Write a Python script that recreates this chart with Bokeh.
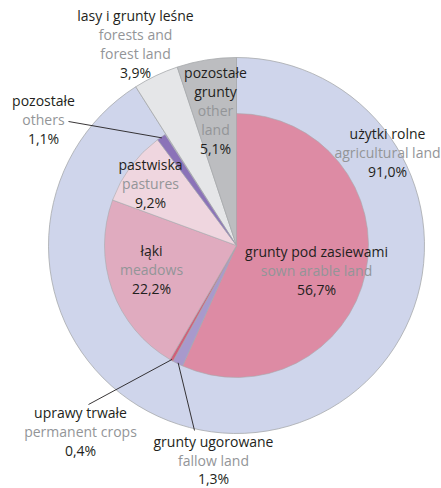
import math
from bokeh.plotting import figure
from bokeh.models import Range1d, ColumnDataSource
from bokeh.core.properties import value
from bokeh.embed import file_html
from bokeh.resources import INLINE

# ---- data (percent of total area), clockwise from 12 o'clock ----
inner_names = ["grunty pod zasiewami", "grunty ugorowane", "uprawy trwałe", "łąki", "pastwiska", "pozostałe"]
inner_values = [56.7, 1.3, 0.4, 22.2, 9.2, 1.1]
inner_colors = ["#dd8ba4", "#a899cc", "#d0607a", "#e0abbf", "#efd6df", "#8b73b8"]

outer_names = ["użytki rolne", "lasy i grunty leśne", "pozostałe grunty"]
outer_values = [91.0, 3.9, 5.1]
outer_colors = ["#cfd5eb", "#e5e6e8", "#bcbdc0"]

# ---- layout (picture pixel coords; y downwards) ----
CX, CY = 236, 245
R_OUT, R_IN = 188, 132
FONT = "Open Sans"
FS = "14px"
DARK = "#231f20"
GREY = "#939598"

W, H = 441, 488
p = figure(width=W, height=H, output_backend="svg", toolbar_location=None,
           x_range=Range1d(0, W), y_range=Range1d(-H, 0),
           min_border=0)
p.axis.visible = False
p.grid.visible = False
p.outline_line_color = None
p.background_fill_color = "white"
p.border_fill_color = "white"


def angles(vals, total=100.0):
    starts, ends, mids = [], [], []
    acc = 0.0
    for v in vals:
        a0 = math.pi / 2 - 2 * math.pi * acc / total
        acc += v
        a1 = math.pi / 2 - 2 * math.pi * acc / total
        starts.append(a0); ends.append(a1); mids.append((a0 + a1) / 2)
    return starts, ends, mids


os_, oe_, om_ = angles(outer_values)
p.wedge(x=CX, y=-CY, radius=R_OUT, start_angle=os_, end_angle=oe_, direction="clock",
        fill_color=outer_colors, line_color="#a7a9ac", line_width=0.8)

is_, ie_, im_ = angles(inner_values)
p.wedge(x=CX, y=-CY, radius=R_IN, start_angle=is_, end_angle=ie_, direction="clock",
        fill_color=inner_colors, line_color="#a7a9ac", line_width=0.6)


def edge_point(ang, r):
    return CX + r * math.cos(ang), -(CY) + r * math.sin(ang)


# leader lines: (inner slice index, label anchor)
leaders = [(5, (68, 121)), (2, (88, 404)), (1, (194, 430))]
for idx, (lx, ly) in leaders:
    ex, ey = edge_point(im_[idx], R_IN - 1)
    p.line(x=[ex, lx], y=[ey, -ly], line_color=DARK, line_width=0.9)

# labels: (x, y of first line, [lines], [colors], line height)
labels = [
    (135, 15, ["lasy i grunty leśne", "forests and", "forest land", "3,9%"], [DARK, GREY, GREY, DARK], 19),
    (43, 100, ["pozostałe", "others", "1,1%"], [DARK, GREY, DARK], 19),
    (215, 72, ["pozostałe", "grunty", "other", "land", "5,1%"], [DARK, DARK, GREY, GREY, DARK], 19),
    (387, 133, ["użytki rolne", "agricultural land", "91,0%"], [DARK, GREY, DARK], 19),
    (150, 164, ["pastwiska", "pastures", "9,2%"], [DARK, GREY, DARK], 19),
    (151, 250, ["łąki", "meadows", "22,2%"], [DARK, GREY, DARK], 19),
    (316, 251, ["grunty pod zasiewami", "sown arable land", "56,7%"], [DARK, GREY, DARK], 19),
    (80, 412, ["uprawy trwałe", "permanent crops", "0,4%"], [DARK, GREY, DARK], 19),
    (213, 441, ["grunty ugorowane", "fallow land", "1,3%"], [DARK, GREY, DARK], 18.5),
]
xs, ys, ts, cs = [], [], [], []
for (x, y, lines, cols, lh) in labels:
    for i, (t, c) in enumerate(zip(lines, cols)):
        xs.append(x); ys.append(-(y + i * lh)); ts.append(t); cs.append(c)
src = ColumnDataSource(dict(x=xs, y=ys, t=ts, c=cs))
p.text(x="x", y="y", text="t", source=src, text_color="c", text_align="center",
       text_baseline="middle", text_font=value(FONT), text_font_size=FS)

open("out.html", "w").write(file_html(p, INLINE))
